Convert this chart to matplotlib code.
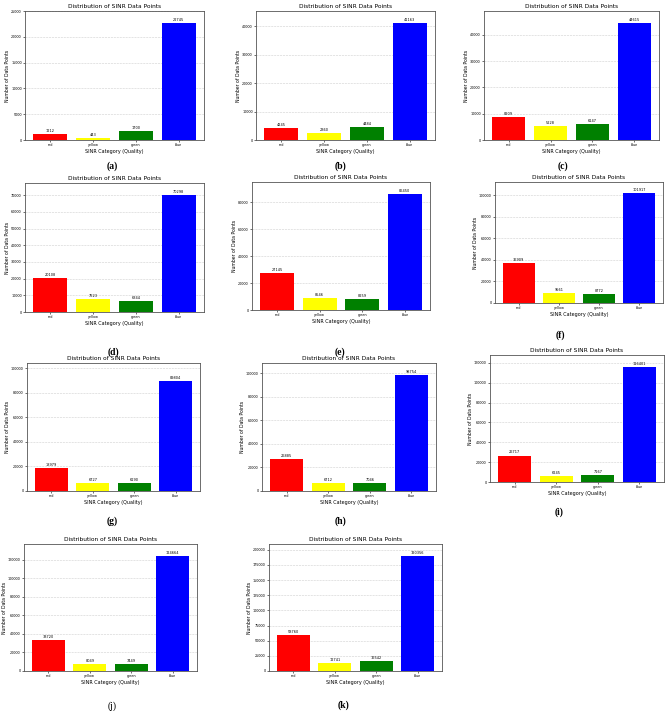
import matplotlib
matplotlib.use('Agg')
import matplotlib.pyplot as plt
from matplotlib.ticker import MultipleLocator

categories = ['red', 'yellow', 'green', 'blue']
bar_colors = ['red', 'yellow', 'green', 'blue']
panel_labels = ['(a)', '(b)', '(c)', '(d)', '(e)', '(f)', '(g)', '(h)', '(i)', '(j)', '(k)']

counts_a = [1212, 443, 1700, 22745]
counts_b = [4245, 2360, 4484, 41163]
counts_c = [8909, 5228, 6147, 44615]
counts_d = [20108, 7623, 6344, 70298]
counts_e = [27145, 8546, 8259, 86450]
counts_f = [36909, 9561, 8772, 101917]
counts_g = [18979, 6727, 6190, 89804]
counts_h = [26885, 6712, 7046, 98754]
counts_i = [26717, 6245, 7167, 116401]
counts_j = [33720, 8049, 7449, 124664]
counts_k = [58760, 12741, 16542, 190356]
all_counts = [counts_a, counts_b, counts_c, counts_d, counts_e, counts_f,
              counts_g, counts_h, counts_i, counts_j, counts_k]

# layout (pixels): left, top, right, bottom of each axes, then caption x, y
W, H = 669, 711
boxes = [(25, 11, 204, 140), (256, 11, 435, 140), (484, 11, 659, 140),
         (25, 183, 204, 312), (252, 182, 430, 310), (495, 182, 663, 303),
         (27, 363, 200, 491), (262, 363, 436, 491), (490, 355, 664, 482),
         (24, 544, 197, 671), (269, 544, 442, 671)]
captions = [(112, 166), (341, 166), (563, 166),
            (113, 352), (340, 352), (560, 335),
            (112, 521), (341, 521), (559, 512),
            (112, 706), (343, 705)]
steps = [5000, 10000, 10000, 10000, 20000, 20000, 20000, 20000, 20000, 20000, 25000]
top_factor = [1.1] * 6 + [1.16] + [1.1] * 4

fig = plt.figure(figsize=(W / 100, H / 100), dpi=100)

for i, counts in enumerate(all_counts):
  l, t, r, b = boxes[i]
  ax = fig.add_axes([l / W, 1 - b / H, (r - l) / W, (b - t) / H])
  x_pos = range(len(categories))
  ax.bar(x_pos, counts, color=bar_colors, width=0.8)
  ymax = max(counts) * top_factor[i]
  ax.set_ylim(0, ymax)
  ax.yaxis.set_major_locator(MultipleLocator(steps[i]))
  for x, v in zip(x_pos, counts):
    ax.text(x, v + ymax * 0.008, str(v), ha='center', va='bottom', fontsize=2.5)
  ax.set_xticks(list(x_pos))
  ax.set_xticklabels(categories)
  ax.tick_params(labelsize=2.4, length=1.5, width=0.4, pad=0.8)
  ax.grid(axis='y', linestyle='--', linewidth=0.4, alpha=0.6)
  ax.set_axisbelow(True)
  for s in ax.spines.values():
    s.set_linewidth(0.6)
    s.set_color('#555555')
  ax.set_title('Distribution of SINR Data Points', fontsize=4.2, pad=2)
  ax.set_xlabel('SINR Category (Quality)', fontsize=3.5, labelpad=1)
  ax.set_ylabel('Number of Data Points', fontsize=3.3, labelpad=1)

  cx, cy = captions[i]
  weight = 'normal' if panel_labels[i] == '(j)' else 'bold'
  fig.text(cx / W, 1 - cy / H, panel_labels[i], ha='center', va='center',
           fontsize=7, fontweight=weight, family='Liberation Serif')

fig.savefig('out.png', dpi=100)
plt.close()
